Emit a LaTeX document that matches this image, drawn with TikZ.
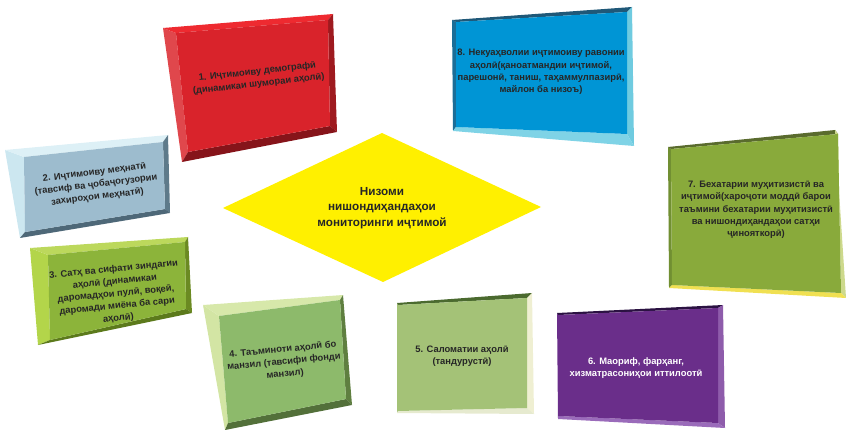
\documentclass[tikz,border=0pt]{standalone}
\usepackage{fontspec}
\setmainfont{Liberation Sans}

\definecolor{hubyellow}{HTML}{FFF000}
\definecolor{txtgray}{HTML}{262626}

% bevelled panel from the corners o1..o4 (outer) and i1..i4 (face)
% #1 left, #2 top, #3 right, #4 bottom, #5 face
\newcommand{\bevbox}[5]{%
  \fill[fill=#1] (o1) -- (i1) -- (i4) -- (o4) -- cycle;
  \fill[fill=#2] (o1) -- (o2) -- (i2) -- (i1) -- cycle;
  \fill[fill=#3] (o2) -- (o3) -- (i3) -- (i2) -- cycle;
  \fill[fill=#4] (o4) -- (i4) -- (i3) -- (o3) -- cycle;
  \fill[fill=#5] (i1) -- (i2) -- (i3) -- (i4) -- cycle;}

\definecolor{redL}{HTML}{E0474C}\definecolor{redT}{HTML}{EE2A30}
\definecolor{redR}{HTML}{9E1A1F}\definecolor{redB}{HTML}{86141A}
\definecolor{redF}{HTML}{D9232B}
\definecolor{bluL}{HTML}{1B6E98}\definecolor{bluT}{HTML}{1F5878}
\definecolor{bluR}{HTML}{6FCBE0}\definecolor{bluB}{HTML}{7FD3E6}
\definecolor{bluF}{HTML}{0095D5}
\definecolor{stlL}{HTML}{CCE7F0}\definecolor{stlT}{HTML}{DDF0F6}
\definecolor{stlR}{HTML}{5E7A8A}\definecolor{stlB}{HTML}{4E6878}
\definecolor{stlF}{HTML}{9DBCCE}
\definecolor{limL}{HTML}{B3D54A}\definecolor{limT}{HTML}{BCD85C}
\definecolor{limR}{HTML}{6B8A22}\definecolor{limB}{HTML}{5C7A1C}
\definecolor{limF}{HTML}{8CB43A}
\definecolor{sagL}{HTML}{D3E5A4}\definecolor{sagT}{HTML}{D7E8AA}
\definecolor{sagR}{HTML}{5F7F40}\definecolor{sagB}{HTML}{53703A}
\definecolor{sagF}{HTML}{8DBA6B}
\definecolor{olvL}{HTML}{A4C277}\definecolor{olvT}{HTML}{4B6A2F}
\definecolor{olvR}{HTML}{EFEFD2}\definecolor{olvB}{HTML}{E6EACF}
\definecolor{olvF}{HTML}{A4C277}
\definecolor{purL}{HTML}{6A2E8A}\definecolor{purT}{HTML}{2B1242}
\definecolor{purR}{HTML}{8E5CAB}\definecolor{purB}{HTML}{9A6BBA}
\definecolor{purF}{HTML}{6A2E8A}
\definecolor{grnL}{HTML}{718F32}\definecolor{grnT}{HTML}{5A6B2E}
\definecolor{grnR}{HTML}{CDD98C}\definecolor{grnB}{HTML}{F0E052}
\definecolor{grnF}{HTML}{89AA3B}

\begin{document}
\begin{tikzpicture}[x=0.03cm,y=-0.03cm,
  boxtext/.style={align=center,font=\bfseries\fontsize{8}{10.5}\selectfont,text=txtgray,inner sep=0pt},
  hubtext/.style={align=center,font=\bfseries\fontsize{10}{13}\selectfont,text=txtgray}]

\useasboundingbox (0,0) rectangle (846,430);

% centre
\fill[hubyellow] (223,208) -- (382,133) -- (541,207) -- (383,282) -- cycle;
\node[hubtext] (hub) at (382,208) {Низоми\\нишондиҳандаҳои\\мониторинги иҷтимой};

% 1
\coordinate (o1) at (163,28); \coordinate (o2) at (333,14);
\coordinate (o3) at (337,132); \coordinate (o4) at (182,162);
\coordinate (i1) at (176,33); \coordinate (i2) at (328,20);
\coordinate (i3) at (330,126); \coordinate (i4) at (188,152);
\bevbox{redL}{redT}{redR}{redB}{redF}
\node[boxtext,rotate=6.5] (t1) at (258,78) {1. Иҷтимоиву демографӣ\\(динамикаи шумораи аҳолӣ)};

% 8
\coordinate (o1) at (452,20); \coordinate (o2) at (632,7);
\coordinate (o3) at (634,146); \coordinate (o4) at (453,131);
\coordinate (i1) at (456,22); \coordinate (i2) at (627,12);
\coordinate (i3) at (627,134); \coordinate (i4) at (456,127);
\bevbox{bluL}{bluT}{bluR}{bluB}{bluF}
\node[boxtext] (t8) at (541,72) {8. Некуаҳволии иҷтимоиву равонии\\аҳолӣ(қаноатмандии иҷтимой,\\парешонӣ, таниш, таҳаммулпазирӣ,\\майлон ба низоъ)};

% 2
\coordinate (o1) at (5,150); \coordinate (o2) at (168,135);
\coordinate (o3) at (170,213); \coordinate (o4) at (20,238);
\coordinate (i1) at (24,157); \coordinate (i2) at (163,142);
\coordinate (i3) at (165,209); \coordinate (i4) at (25,232);
\bevbox{stlL}{stlT}{stlR}{stlB}{stlF}
\node[boxtext,rotate=7] (t2) at (96,185) {2. Иҷтимоиву меҳнатӣ\\(тавсиф ва ҷобаҷогузории\\захироҳои меҳнатӣ)};

% 3
\coordinate (o1) at (30,248); \coordinate (o2) at (188,237);
\coordinate (o3) at (192,313); \coordinate (o4) at (38,345);
\coordinate (i1) at (48,255); \coordinate (i2) at (185,242);
\coordinate (i3) at (186,309); \coordinate (i4) at (50,340);
\bevbox{limL}{limT}{limR}{limB}{limF}
\node[boxtext,rotate=5.5] (t3) at (116,294) {3. Сатҳ ва сифати зиндагии\\аҳолӣ (динамикаи\\даромадҳои пулӣ, воқеӣ,\\даромади миёна ба сари\\аҳолӣ)};

% 4
\coordinate (o1) at (203,305); \coordinate (o2) at (343,295);
\coordinate (o3) at (352,405); \coordinate (o4) at (225,430);
\coordinate (i1) at (219,316); \coordinate (i2) at (340,300);
\coordinate (i3) at (346,399); \coordinate (i4) at (228,423);
\bevbox{sagL}{sagT}{sagR}{sagB}{sagF}
\node[boxtext,rotate=5.5] (t4) at (284,362) {4. Таъминоти аҳолӣ бо\\манзил (тавсифи фонди\\манзил)};

% 5
\coordinate (o1) at (397,303); \coordinate (o2) at (532,293);
\coordinate (o3) at (534,414); \coordinate (o4) at (397,413);
\coordinate (i1) at (398,305); \coordinate (i2) at (527,298);
\coordinate (i3) at (527,408); \coordinate (i4) at (398,411);
\bevbox{olvL}{olvT}{olvR}{olvB}{olvF}
\node[boxtext] (t5) at (462,356) {5. Саломатии аҳолӣ\\(тандурустӣ)};

% 6
\coordinate (o1) at (557,313); \coordinate (o2) at (723,305);
\coordinate (o3) at (725,428); \coordinate (o4) at (558,419);
\coordinate (i1) at (558,315); \coordinate (i2) at (718,308);
\coordinate (i3) at (718,423); \coordinate (i4) at (558,416);
\bevbox{purL}{purT}{purR}{purB}{purF}
\node[boxtext,text=white] (t6) at (636,368) {6. Маориф, фарҳанг,\\хизматрасониҳои иттилоотӣ};

% 7
\coordinate (o1) at (668,147); \coordinate (o2) at (835,130);
\coordinate (o3) at (846,298); \coordinate (o4) at (669,288);
\coordinate (i1) at (671,149); \coordinate (i2) at (838,134);
\coordinate (i3) at (841,293); \coordinate (i4) at (672,285);
\bevbox{grnL}{grnT}{grnR}{grnB}{grnF}
\node[boxtext] (t7) at (756,210) {7. Бехатарии муҳитизистӣ ва\\иҷтимой(хароҷоти моддӣ барои\\таъмини бехатарии муҳитизистӣ\\ва нишондиҳандаҳои сатҳи\\ҷинояткорӣ)};

\end{tikzpicture}
\end{document}
